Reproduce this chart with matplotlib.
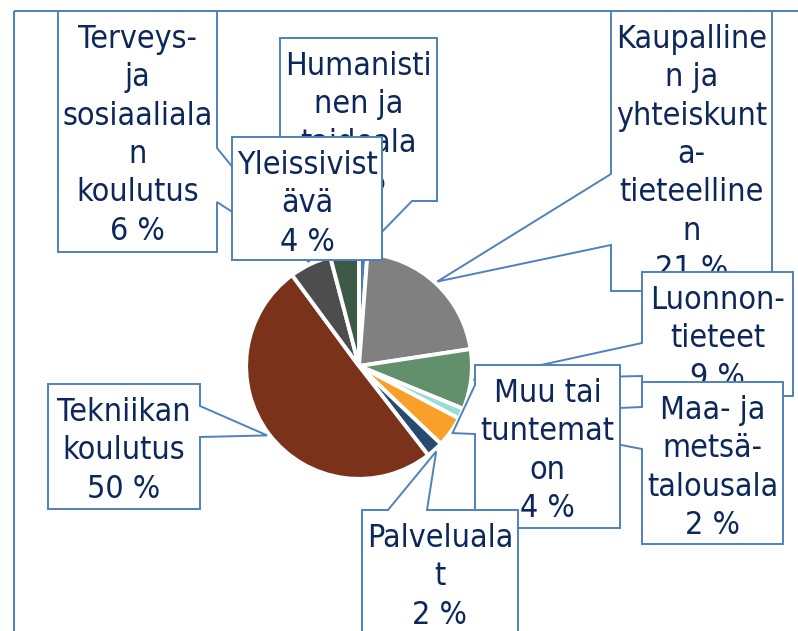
import numpy as np
import matplotlib
matplotlib.use('Agg')
import matplotlib.pyplot as plt
from matplotlib.patches import Polygon, Rectangle
from matplotlib import font_manager as fm

# data: share of each field (clockwise from 12 o'clock)
categories = ['Humanistinen ja taideala', 'Kaupallinen ja yhteiskunta-tieteellinen',
              'Luonnon-tieteet', 'Maa- ja metsätalousala', 'Muu tai tuntematon',
              'Palvelualat', 'Tekniikan koulutus', 'Terveys- ja sosiaalialan koulutus',
              'Yleissivistävä']
shares = [1.2, 21.4, 8.6, 1.5, 4.4, 2.4, 50.4, 6.0, 4.1]
# label text as wrapped in the original
label_lines = [['Humanisti', 'nen ja', 'taideala'],
               ['Kaupalline', 'n ja', 'yhteiskunt', 'a-', 'tieteelline', 'n'],
               ['Luonnon-', 'tieteet'],
               ['Maa- ja', 'metsä-', 'talousala'],
               ['Muu tai', 'tuntemat', 'on'],
               ['Palveluala', 't'],
               ['Tekniikan', 'koulutus'],
               ['Terveys-', 'ja', 'sosiaaliala', 'n', 'koulutus'],
               ['Yleissivist', 'ävä']]
colors = ['#4A7EBB', '#808080', '#62906D', '#98DCD8', '#F9A02A',
          '#274B6E', '#7A321B', '#4D4D4D', '#3D5A47']

EDGE = '#4F81BD'
TXT = '#0C2759'
W, H = 798, 631
CX, CY, R = 359, 366, 114

# label boxes in pixels: x0, y0, x1, y1, callout side, base1, base2
boxes = [(280, 38, 437, 201, 'bottom', 372, 412),
         (611, 11, 772, 291, 'left', 174, 245),
         (642, 272, 793, 396, 'left', 343, 376),
         (642, 382, 783, 544, 'left', 407, 449),
         (475, 365, 620, 528, 'left', 385, 434),
         (362, 510, 518, 660, 'top', 388, 427),
         (48, 384, 200, 509, 'right', 406, 437),
         (58, 11, 217, 252, 'right', 148, 202),
         (232, 137, 382, 260, 'bottom', 300, 340)]

cond = [f.fname for f in fm.fontManager.ttflist if f.fname.endswith('DejaVuSansCondensed.ttf')]
if cond:
    font = dict(fontproperties=fm.FontProperties(fname=cond[0], size=23))
else:
    font = dict(family='Liberation Sans', fontsize=23)

fig = plt.figure(figsize=(W / 100, H / 100), dpi=100)
pie_ax = fig.add_axes([(CX - R) / W, (H - CY - R) / H, 2 * R / W, 2 * R / H])
wedges, _ = pie_ax.pie(shares, colors=colors, startangle=90, counterclock=False,
                       wedgeprops=dict(edgecolor='white', linewidth=2.8))
pie_ax.set_xlim(-1.01, 1.01)
pie_ax.set_ylim(-1.01, 1.01)

ov = fig.add_axes([0, 0, 1, 1], zorder=2)
ov.set_xlim(0, W)
ov.set_ylim(H, 0)
ov.axis('off')
ov.patch.set_alpha(0)

ov.add_patch(Rectangle((14, 11), 900, 700, fill=False, ec=EDGE, lw=1.4, zorder=1))


def to_px(pt):
    return ov.transData.inverted().transform(pie_ax.transData.transform(pt))


def callout(x0, y0, x1, y1, side, b1, b2, tip):
    tl, tr, br, bl = (x0, y0), (x1, y0), (x1, y1), (x0, y1)
    inside = x0 < tip[0] < x1 and y0 < tip[1] < y1
    if inside:
        return [tl, tr, br, bl]
    if side == 'top':
        return [tl, (b1, y0), tip, (b2, y0), tr, br, bl]
    if side == 'right':
        return [tl, tr, (x1, b1), tip, (x1, b2), br, bl]
    if side == 'bottom':
        return [tl, tr, br, (b2, y1), tip, (b1, y1), bl]
    return [tl, tr, br, bl, (x0, b2), tip, (x0, b1)]


for i, w in enumerate(wedges):
    mid = np.deg2rad((w.theta1 + w.theta2) / 2)
    tip = to_px((1.02 * np.cos(mid), 1.02 * np.sin(mid)))
    x0, y0, x1, y1, side, b1, b2 = boxes[i]
    pts = callout(x0, y0, x1, y1, side, b1, b2, tuple(tip))
    ov.add_patch(Polygon(pts, closed=True, fc='white', ec=EDGE, lw=1.4,
                         joinstyle='miter', zorder=10 + 2 * i))
    lines = label_lines[i] + ['%d %%' % round(shares[i])]
    for j, s in enumerate(lines):
        ov.text((x0 + x1) / 2, y0 + 37 + j * 38.3, s, ha='center', va='baseline',
                color=TXT, zorder=11 + 2 * i, **font)

fig.savefig('out.png', dpi=100)
